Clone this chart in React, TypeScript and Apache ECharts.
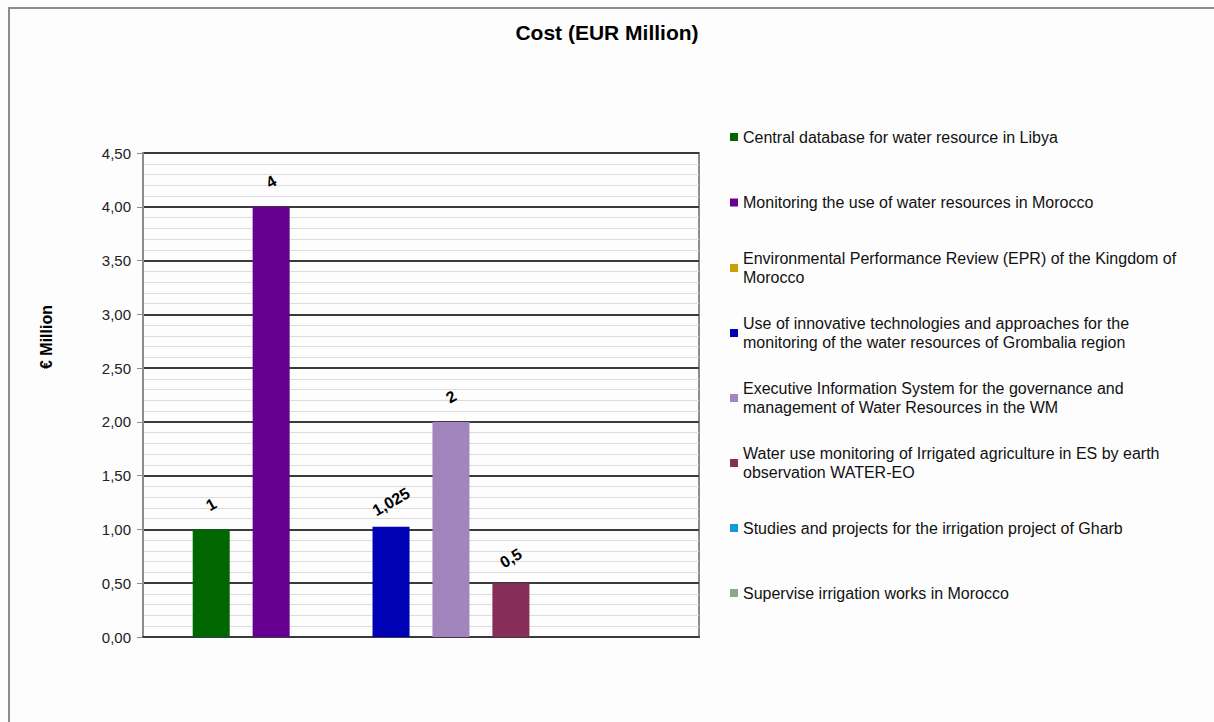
import React, { useEffect, useRef } from 'react';
import * as echarts from 'echarts';

const categories = [''];
const seriesNames = [
  'Central database for water resource in Libya',
  'Monitoring the use of water resources in Morocco',
  'Environmental Performance Review (EPR) of the Kingdom of Morocco',
  'Use of innovative technologies and approaches for the monitoring of the water resources of Grombalia region',
  'Executive Information System for the governance and management of Water Resources in the WM',
  'Water use monitoring of Irrigated agriculture in ES by earth observation WATER-EO',
  'Studies and projects for the irrigation project of Gharb',
  'Supervise irrigation works in Morocco',
];
const legendLabels = [
  'Central database for water resource in Libya',
  'Monitoring the use of water resources in Morocco',
  'Environmental Performance Review (EPR) of the Kingdom of\nMorocco',
  'Use of innovative technologies and approaches for the\nmonitoring of the water resources of Grombalia region',
  'Executive Information System for the governance and\nmanagement of Water Resources in the WM',
  'Water use monitoring of Irrigated agriculture in ES by earth\nobservation WATER-EO',
  'Studies and projects for the irrigation project of Gharb',
  'Supervise irrigation works in Morocco',
];
const seriesValues: (number | null)[] = [1, 4, null, 1.025, 2, 0.5, null, null];
const seriesColors = ['#006600', '#660090', '#CC9E00', '#0000B4', '#A385BD', '#862E58', '#1199DD', '#88AA88'];
const yMin = 0;
const yMax = 4.5;
const yInterval = 0.5;

const FONT = '"Liberation Sans", Arial, sans-serif';
const fmt = (v: number, d?: number) =>
  (d === undefined ? String(v) : v.toFixed(d)).replace('.', ',');

export default function App() {
  const ref = useRef<HTMLDivElement>(null);
  useEffect(() => {
    const chart = echarts.init(ref.current!, null, { renderer: 'svg' });
    const lineH = 19;
    const firstLineCenters = [137, 202.5, 268, 333, 398, 463, 528, 593];
    const legends = seriesNames.map((name, i) => {
      const twoLine = legendLabels[i].includes('\n');
      return {
        show: true,
        orient: 'vertical',
        left: 730,
        top: twoLine ? firstLineCenters[i] - lineH * 1.5 : firstLineCenters[i] - lineH / 2,
        padding: 0,
        icon: 'rect',
        itemWidth: 8,
        itemHeight: 8,
        selectedMode: false,
        data: [name],
        formatter: () => legendLabels[i],
        textStyle: {
          fontFamily: FONT,
          fontSize: 16,
          color: '#111',
          lineHeight: lineH,
          padding: twoLine ? [lineH, 0, 0, 0] : 0,
        },
      };
    });
    const option: any = {
      animation: false,
      backgroundColor: '#fdfdfd',
      title: {
        text: 'Cost (EUR Million)',
        left: 'center',
        top: 22,
        padding: [0, 0, 0, 10],
        textStyle: { fontFamily: FONT, fontSize: 21, fontWeight: 'bold', color: '#000' },
      },
      legend: legends,
      grid: {
        left: 143,
        right: 515,
        top: 153,
        bottom: 85,
        show: true,
        borderColor: '#8c8c8c',
        borderWidth: 2,
        backgroundColor: 'transparent',
      },
      xAxis: {
        type: 'category',
        data: categories,
        axisLine: { show: true, lineStyle: { color: '#3a3a3a', width: 2 } },
        axisTick: { show: false },
        axisLabel: { show: false },
      },
      yAxis: {
        type: 'value',
        min: yMin,
        max: yMax,
        interval: yInterval,
        axisLine: { show: true, lineStyle: { color: '#8c8c8c', width: 2 } },
        axisTick: { show: true, length: 6, lineStyle: { color: '#8c8c8c', width: 1 } },
        axisLabel: {
          margin: 12,
          fontFamily: FONT,
          fontSize: 15,
          color: '#222',
          formatter: (v: number) => fmt(v, 2),
        },
        splitLine: { show: true, lineStyle: { color: '#3a3a3a', width: 2 } },
        minorTick: { show: false, splitNumber: 5 },
        minorSplitLine: { show: true, lineStyle: { color: '#dcdcdc', width: 1 } },
      },
      series: seriesNames.map((name, i) => ({
        type: 'bar',
        name,
        data: [seriesValues[i]],
        barWidth: 37,
        barGap: '62%',
        itemStyle: { color: seriesColors[i] },
        label: {
          show: true,
          position: 'top',
          distance: 25,
          rotate: 30,
          align: 'center',
          verticalAlign: 'middle',
          fontFamily: FONT,
          fontSize: 16,
          fontWeight: 'bold',
          color: '#000',
          formatter: (p: any) => (p.value == null ? '' : fmt(p.value)),
        },
      })),
      graphic: [
        {
          type: 'rect',
          silent: true,
          shape: { x: 9, y: 8, width: 1400, height: 900 },
          style: { fill: 'none', stroke: '#8c8c8c', lineWidth: 2 },
          z: 100,
        },
        {
          type: 'text',
          x: 46,
          y: 337,
          rotation: Math.PI / 2,
          style: {
            text: '€ Million',
            fontFamily: FONT,
            fontSize: 16,
            fontWeight: 'bold',
            fill: '#000',
            align: 'center',
            verticalAlign: 'middle',
          },
        },
      ],
    };
    chart.setOption(option);
    return () => chart.dispose();
  }, []);
  return (
    <div
      ref={ref}
      style={{ position: 'absolute', left: 0, top: 0, width: 1214, height: 722 }}
    />
  );
}
